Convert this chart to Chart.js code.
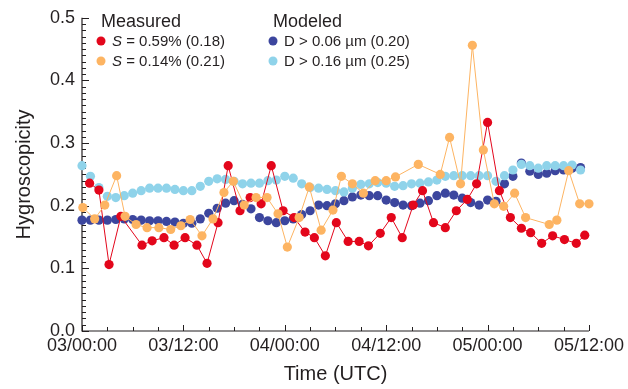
<!DOCTYPE html>
<html>
<head>
<meta charset="utf-8">
<script src="https://cdn.jsdelivr.net/npm/chart.js@4.4.1/dist/chart.umd.min.js"></script>
<style>
  html, body { margin: 0; padding: 0; background: #fff; }
  #wrap { width: 628px; height: 389px; }
</style>
</head>
<body>
<div id="wrap"><canvas id="chart" width="628" height="389"></canvas></div>
<script>
// hours since 03/00:00 UTC
const xTickLabels = ['03/00:00', '03/12:00', '04/00:00', '04/12:00', '05/00:00', '05/12:00'];

// Measured, S = 0.59%
const redTimes = [0.9, 2.0, 3.2, 4.6, 7.1, 8.3, 9.7, 10.9, 12.2, 13.6, 14.8, 16.1, 17.3, 18.7, 19.9, 21.2, 22.4, 23.8, 25.1, 26.4, 27.5, 28.8, 30.1, 31.5, 32.8, 33.9, 35.3, 36.6, 37.9, 39.2, 40.3, 41.6, 43.0, 44.3, 45.6, 46.7, 48.0, 49.4, 50.7, 52.0, 53.1, 54.4, 55.7, 57.1, 58.5, 59.5];
const redValues = [0.236, 0.225, 0.106, 0.183, 0.137, 0.144, 0.149, 0.137, 0.149, 0.137, 0.108, 0.173, 0.264, 0.192, 0.213, 0.203, 0.264, 0.192, 0.181, 0.158, 0.149, 0.120, 0.173, 0.143, 0.143, 0.136, 0.156, 0.181, 0.149, 0.201, 0.224, 0.173, 0.165, 0.192, 0.210, 0.235, 0.333, 0.224, 0.181, 0.164, 0.157, 0.140, 0.152, 0.146, 0.140, 0.153];

// Measured, S = 0.14%
const orangeTimes = [0.1, 1.5, 2.7, 4.1, 5.1, 6.4, 7.7, 9.1, 10.5, 11.7, 12.8, 14.2, 15.5, 16.8, 17.9, 19.2, 20.6, 21.9, 23.2, 24.3, 25.7, 26.9, 28.3, 29.7, 30.7, 32.0, 33.3, 34.7, 36.0, 37.1, 39.8, 42.4, 43.5, 44.8, 46.2, 47.5, 48.8, 49.9, 51.2, 52.5, 55.3, 56.2, 57.6, 58.9, 60.0];
const orangeValues = [0.197, 0.179, 0.201, 0.248, 0.183, 0.170, 0.165, 0.165, 0.162, 0.168, 0.178, 0.152, 0.179, 0.221, 0.239, 0.201, 0.213, 0.213, 0.187, 0.134, 0.181, 0.230, 0.161, 0.193, 0.247, 0.235, 0.220, 0.240, 0.240, 0.246, 0.266, 0.250, 0.309, 0.235, 0.456, 0.289, 0.203, 0.199, 0.220, 0.181, 0.170, 0.177, 0.256, 0.203, 0.203];

// Modeled, hourly
const modelHours = [0, 1, 2, 3, 4, 5, 6, 7, 8, 9, 10, 11, 12, 13, 14, 15, 16, 17, 18, 19, 20, 21, 22, 23, 24, 25, 26, 27, 28, 29, 30, 31, 32, 33, 34, 35, 36, 37, 38, 39, 40, 41, 42, 43, 44, 45, 46, 47, 48, 49, 50, 51, 52, 53, 54, 55, 56, 57, 58, 59];
const navyValues = [0.177, 0.177, 0.177, 0.177, 0.178, 0.179, 0.178, 0.177, 0.176, 0.176, 0.175, 0.174, 0.172, 0.172, 0.179, 0.188, 0.196, 0.204, 0.208, 0.202, 0.195, 0.181, 0.176, 0.173, 0.176, 0.179, 0.186, 0.192, 0.201, 0.200, 0.203, 0.208, 0.214, 0.217, 0.216, 0.216, 0.209, 0.205, 0.201, 0.200, 0.204, 0.208, 0.216, 0.220, 0.217, 0.212, 0.205, 0.201, 0.209, 0.207, 0.235, 0.247, 0.268, 0.255, 0.250, 0.252, 0.256, 0.257, 0.260, 0.261];
const lightBlueValues = [0.264, 0.247, 0.229, 0.215, 0.213, 0.216, 0.220, 0.224, 0.228, 0.228, 0.228, 0.226, 0.224, 0.224, 0.231, 0.239, 0.243, 0.242, 0.239, 0.235, 0.236, 0.236, 0.240, 0.241, 0.247, 0.244, 0.235, 0.229, 0.228, 0.226, 0.224, 0.222, 0.228, 0.234, 0.235, 0.237, 0.236, 0.231, 0.232, 0.235, 0.236, 0.238, 0.241, 0.247, 0.248, 0.248, 0.248, 0.248, 0.248, 0.239, 0.248, 0.257, 0.266, 0.264, 0.260, 0.264, 0.264, 0.264, 0.265, 0.257];

const RED = '#E3061B';
const ORANGE = '#FDB462';
const NAVY = '#3C469E';
const LIGHTBLUE = '#8FD3EA';
const INK = '#231F20';
const FONT = "'Liberation Sans', Arial, Helvetica, sans-serif";

const pairs = (xs, ys) => xs.map((x, i) => ({ x: x, y: ys[i] }));

// axis lines and inward ticks, drawn under the points
const axisInk = {
  id: 'axisInk',
  beforeDatasetsDraw(chart) {
    const { ctx, chartArea, scales } = chart;
    const { left, right, top, bottom } = chartArea;
    ctx.save();
    ctx.strokeStyle = INK;
    ctx.lineWidth = 1.2;
    ctx.beginPath();
    ctx.moveTo(left, top);
    ctx.lineTo(left, bottom);
    ctx.lineTo(right, bottom);
    ctx.stroke();

    ctx.lineWidth = 1;
    ctx.beginPath();
    for (let i = 0; i <= 50; i++) {
      const py = Math.round(scales.y.getPixelForValue(i / 100)) + 0.5;
      const len = i % 10 === 0 ? 7 : 4;
      ctx.moveTo(left, py);
      ctx.lineTo(left + len, py);
    }
    for (let h = 0; h <= 60; h += 3) {
      const px = Math.round(scales.x.getPixelForValue(h)) + 0.5;
      const len = h % 12 === 0 ? 6 : 4;
      ctx.moveTo(px, bottom);
      ctx.lineTo(px, bottom - len);
    }
    ctx.stroke();
    ctx.restore();
  }
};

// two-group legend in the top left of the plot
const groupLegend = {
  id: 'groupLegend',
  afterDraw(chart) {
    const ctx = chart.ctx;
    ctx.save();
    ctx.fillStyle = INK;
    ctx.textBaseline = 'alphabetic';
    ctx.font = '18px ' + FONT;
    ctx.fillText('Measured', 101, 27);
    ctx.fillText('Modeled', 273, 27);

    const dot = (x, y, color) => {
      ctx.beginPath();
      ctx.arc(x, y, 4.5, 0, Math.PI * 2);
      ctx.fillStyle = color;
      ctx.fill();
    };
    const sItem = (x, y, rest) => {
      ctx.fillStyle = INK;
      ctx.font = 'italic 15px ' + FONT;
      ctx.fillText('S', x, y);
      const w = ctx.measureText('S').width;
      ctx.font = '15px ' + FONT;
      ctx.fillText(rest, x + w, y);
    };
    dot(101, 41, RED);
    sItem(112, 46, ' = 0.59% (0.18)');
    dot(101, 61, ORANGE);
    sItem(112, 66, ' = 0.14% (0.21)');

    dot(273, 41, NAVY);
    dot(273, 61, LIGHTBLUE);
    ctx.fillStyle = INK;
    ctx.font = '15px ' + FONT;
    ctx.fillText('D > 0.06 \u00b5m (0.20)', 284, 46);
    ctx.fillText('D > 0.16 \u00b5m (0.25)', 284, 66);
    ctx.restore();
  }
};

new Chart(document.getElementById('chart'), {
  type: 'scatter',
  data: {
    datasets: [
      {
        label: 'S = 0.59% (0.18)',
        data: pairs(redTimes, redValues),
        showLine: true,
        borderColor: RED,
        borderWidth: 1,
        backgroundColor: RED,
        pointBackgroundColor: RED,
        pointBorderWidth: 0,
        pointRadius: 4.6,
        clip: false,
        order: 1,
      },
      {
        label: 'S = 0.14% (0.21)',
        data: pairs(orangeTimes, orangeValues),
        showLine: true,
        borderColor: ORANGE,
        borderWidth: 1,
        backgroundColor: ORANGE,
        pointBackgroundColor: ORANGE,
        pointBorderWidth: 0,
        pointRadius: 4.6,
        clip: false,
        order: 0,
      },
      {
        label: 'D > 0.06 µm (0.20)',
        data: pairs(modelHours, navyValues),
        showLine: false,
        backgroundColor: NAVY,
        pointBackgroundColor: NAVY,
        pointBorderWidth: 0,
        pointRadius: 4.6,
        clip: false,
        order: 3,
      },
      {
        label: 'D > 0.16 µm (0.25)',
        data: pairs(modelHours, lightBlueValues),
        showLine: false,
        backgroundColor: LIGHTBLUE,
        pointBackgroundColor: LIGHTBLUE,
        pointBorderWidth: 0,
        pointRadius: 4.6,
        clip: false,
        order: 2,
      }
    ]
  },
  options: {
    responsive: false,
    animation: false,
    devicePixelRatio: 1,
    layout: { padding: { left: 0, right: 36, top: 15, bottom: 0 } },
    plugins: {
      legend: { display: false },
      tooltip: { enabled: false },
    },
    scales: {
      x: {
        type: 'linear',
        min: 0,
        max: 60,
        grid: { display: false, drawTicks: false },
        border: { display: false },
        ticks: {
          stepSize: 12,
          autoSkip: false,
          maxRotation: 0,
          padding: 4,
          color: INK,
          font: { family: FONT, size: 18 },
          callback: (value) => xTickLabels[value / 12],
        },
        title: {
          display: true,
          text: 'Time (UTC)',
          color: INK,
          font: { family: FONT, size: 20 },
          padding: { top: 0, bottom: 3 },
        },
        afterFit: (scale) => { scale.height = 58; },
      },
      y: {
        min: 0,
        max: 0.5,
        grid: { display: false, drawTicks: false },
        border: { display: false },
        ticks: {
          stepSize: 0.1,
          padding: 7,
          color: INK,
          font: { family: FONT, size: 18 },
          callback: (value) => value.toFixed(1),
        },
        title: {
          display: true,
          text: 'Hygroscopicity',
          color: INK,
          font: { family: FONT, size: 20 },
          padding: { top: 12, bottom: 0 },
        },
        afterFit: (scale) => { scale.width = 82; },
      }
    }
  },
  plugins: [axisInk, groupLegend]
});
</script>
</body>
</html>
